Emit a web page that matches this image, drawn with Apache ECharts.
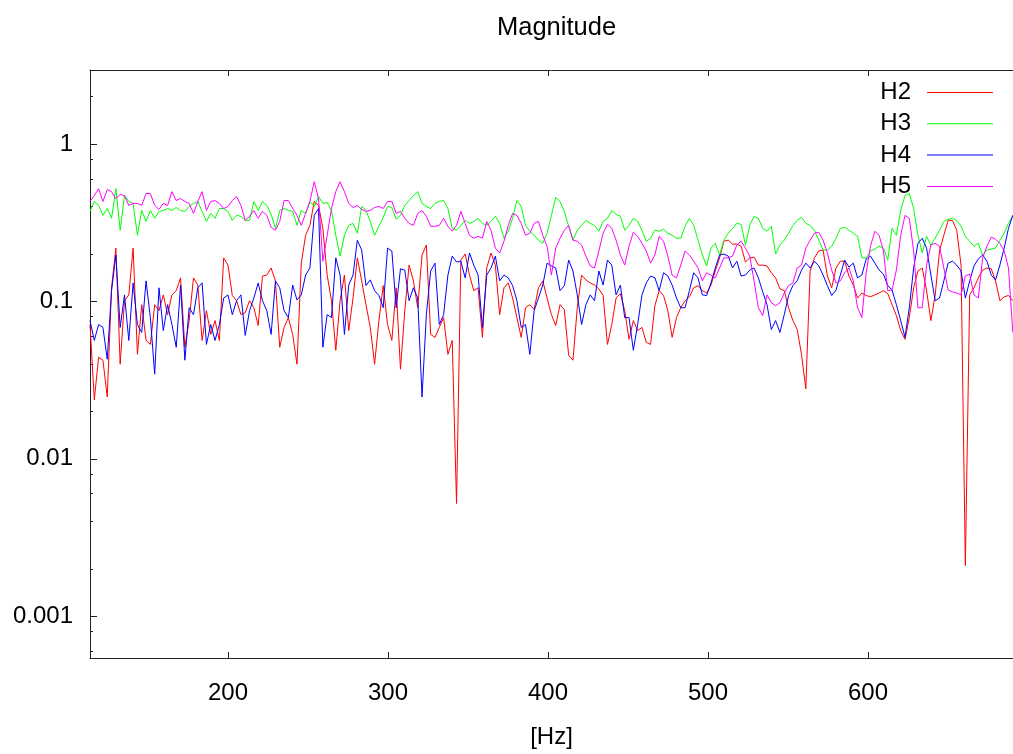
<!DOCTYPE html>
<html><head><meta charset="utf-8">
<script src="https://cdn.jsdelivr.net/npm/echarts@6/dist/echarts.min.js"></script>
<style>html,body{margin:0;padding:0;background:#fff}#c{width:1013px;height:754px}</style>
</head><body><div id="c"></div>
<script>
// Frequency bins (Hz): first bin and bin spacing of the analysed spectrum
const freqStart = 113.75;
const freqStep = 2.695;

const seriesNames = ['H2', 'H3', 'H4', 'H5'];

const H2 = [
.0713,.0237,.0442,.0423,.0247,.122,.218,.0399,.101,.110,
.218,.0461,.0953,.0565,.0533,.0953,.0873,.110,.0824,.110,
.117,.141,.0511,.0755,.141,.127,.0565,.0873,.0617,.0755,
.0565,.189,.170,.109,.101,.0824,.0848,.101,.0912,.0703,
.145,.147,.163,.135,.0511,.0683,.0789,.0617,.0399,.175,
.263,.304,.431,.407,.291,.147,.101,.0489,.101,.147,
.0653,.105,.189,.135,.0953,.0683,.0399,.0755,.126,.0713,
.0565,.122,.0371,.0873,.170,.135,.0912,.197,.228,.0617,
.0591,.0683,.0789,.0461,.0565,.0052,.183,.200,.147,.117,
.122,.0591,.163,.203,.170,.0824,.122,.131,.105,.0789,
.0591,.0912,.0953,.0886,.122,.135,.105,.0824,.0703,.0953,
.0886,.0455,.0423,.0912,.147,.137,.131,.127,.120,.109,
.0533,.0713,.105,.112,.0873,.0574,.0755,.0653,.0683,.0549,
.0533,.0939,.117,.109,.0873,.0591,.0789,.0912,.101,.107,
.122,.126,.117,.113,.127,.156,.189,.241,.245,.231,
.231,.224,.178,.189,.191,.170,.170,.168,.152,.141,
.120,.117,.0912,.0755,.0663,.0461,.0278,.156,.189,.209,
.212,.145,.122,.163,.180,.180,.145,.127,.105,.113,
.109,.107,.110,.113,.117,.112,.0953,.0812,.0653,.0574,
.0789,.122,.156,.163,.117,.0755,.110,.209,.263,.327,
.327,.283,.170,.0021,.110,.122,.141,.158,.163,.161,
.135,.101,.107,.109,.101];

const H3 = [
.373,.431,.407,.352,.389,.337,.520,.283,.470,.431,
.419,.263,.378,.322,.378,.337,.373,.378,.389,.378,
.395,.378,.373,.401,.419,.431,.373,.322,.362,.337,
.389,.389,.373,.327,.352,.347,.327,.327,.431,.378,
.431,.407,.357,.291,.378,.389,.378,.373,.304,.378,
.362,.431,.401,.463,.419,.425,.378,.263,.194,.263,
.304,.313,.271,.401,.378,.322,.263,.300,.342,.401,
.395,.332,.352,.407,.437,.470,.498,.419,.401,.389,
.419,.431,.437,.389,.291,.283,.304,.327,.313,.322,
.337,.313,.304,.322,.347,.313,.252,.279,.337,.437,
.401,.304,.279,.263,.245,.234,.271,.352,.457,.431,
.373,.300,.245,.283,.304,.327,.313,.304,.279,.322,
.337,.378,.357,.347,.283,.304,.337,.322,.283,.241,
.252,.283,.279,.287,.271,.263,.252,.252,.300,.337,
.304,.245,.197,.168,.218,.234,.197,.245,.271,.291,
.313,.309,.228,.304,.347,.337,.291,.279,.300,.200,
.228,.245,.271,.304,.327,.342,.313,.304,.283,.245,
.212,.212,.224,.252,.291,.296,.283,.271,.259,.189,
.189,.209,.215,.224,.218,.183,.291,.263,.378,.470,
.484,.389,.263,.203,.259,.228,.252,.283,.322,.332,
.337,.327,.300,.259,.241,.224,.234,.197,.212,.215,
.218,.245,.271,.313,.352];

const H4 = [
.0755,.0565,.0713,.0683,.0429,.117,.197,.0683,.110,.0565,
.131,.0713,.0635,.135,.0789,.0345,.122,.0653,.0953,.0713,
.0511,.127,.0423,.0912,.0824,.122,.131,.0533,.0713,.0565,
.0713,.105,.110,.0824,.101,.110,.0608,.0873,.105,.131,
.101,.0873,.0617,.135,.122,.0873,.0789,.127,.102,.110,
.147,.163,.352,.389,.0511,.0824,.0789,.189,.147,.0617,
.127,.147,.245,.212,.126,.137,.117,.109,.0912,.218,
.209,.0912,.161,.158,.101,.122,.105,.0247,.0824,.156,
.175,.0713,.0824,.147,.194,.178,.180,.141,.203,.170,
.147,.0683,.147,.163,.194,.135,.147,.141,.126,.101,
.0683,.0713,.0461,.0873,.105,.127,.175,.168,.163,.117,
.126,.183,.156,.110,.0713,.0953,.110,.101,.156,.127,
.183,.170,.110,.127,.0789,.0789,.0489,.0713,.110,.131,
.145,.141,.117,.152,.145,.127,.105,.0912,.0912,.117,
.152,.141,.110,.109,.131,.163,.197,.200,.194,.163,
.180,.145,.147,.158,.163,.141,.115,.0953,.0663,.0755,
.0635,.0824,.109,.126,.135,.158,.175,.163,.180,.168,
.147,.126,.109,.118,.147,.183,.165,.175,.141,.147,
.186,.194,.175,.158,.149,.126,.118,.0953,.0755,.0591,
.0912,.163,.234,.252,.218,.147,.101,.105,.135,.175,
.180,.170,.156,.105,.135,.168,.186,.197,.180,.147,
.137,.170,.218,.291,.352];

const H5 = [
.431,.470,.520,.431,.513,.498,.450,.477,.470,.407,
.419,.419,.407,.484,.484,.407,.384,.419,.407,.498,
.437,.450,.431,.419,.362,.431,.498,.378,.431,.437,
.419,.389,.401,.437,.463,.407,.327,.347,.378,.337,
.373,.352,.296,.283,.322,.437,.437,.389,.352,.304,
.362,.431,.576,.450,.180,.263,.389,.498,.576,.498,
.419,.395,.407,.384,.373,.378,.395,.401,.389,.431,
.431,.362,.373,.337,.313,.304,.362,.378,.347,.300,
.300,.304,.337,.300,.279,.304,.373,.313,.263,.252,
.259,.252,.322,.283,.218,.203,.241,.304,.362,.352,
.313,.263,.271,.313,.322,.263,.224,.147,.218,.252,
.283,.304,.245,.241,.228,.194,.168,.163,.209,.271,
.309,.291,.245,.197,.170,.224,.275,.259,.234,.209,
.175,.197,.259,.241,.194,.147,.141,.170,.209,.197,
.180,.163,.135,.152,.147,.141,.163,.189,.189,.194,
.228,.241,.218,.194,.135,.0912,.0812,.110,.0981,.0939,
.0981,.113,.126,.131,.163,.170,.218,.245,.271,.275,
.245,.203,.158,.131,.135,.152,.163,.135,.0912,.0789,
.152,.224,.279,.263,.209,.117,.118,.158,.263,.352,
.337,.209,.0912,.0912,.170,.228,.234,.224,.163,.118,
.115,.113,.110,.145,.149,.110,.105,.189,.224,.256,
.248,.234,.209,.163,.0635];

const xTickValues = [200, 300, 400, 500, 600];
const yTickValues = [0.001, 0.01, 0.1, 1];
const yTickLabels = ['0.001', '0.01', '0.1', '1'];
const yMinorMultipliers = [2, 4, 6, 8];
const xRange = [113.75, 690.6];
const yRange = [0.000543, 2.95];

const seriesColors = ['#ff0000', '#00ff00', '#0000ff', '#ff00ff'];
const allSeries = [H2, H3, H4, H5];

const lg = v => Math.log10(v);
const yMin = lg(yRange[0]), yMax = lg(yRange[1]);
const majorPos = yTickValues.map(lg);
const minorPos = [];
for (let k = -4; k <= 0; k++) {
  yMinorMultipliers.forEach(m => {
    const p = lg(m * Math.pow(10, k));
    if (p > yMin && p < yMax) minorPos.push(p);
  });
}

const font = 'Liberation Sans, Arial, sans-serif';
const axisColor = '#222';
const lineOpt = { show: true, onZero: false, lineStyle: { color: axisColor, width: 1 } };

const chart = echarts.init(document.getElementById('c'));
chart.setOption({
  backgroundColor: '#fff',
  animation: false,
  title: {
    text: 'Magnitude', left: 492, top: 10,
    textStyle: { fontFamily: font, fontSize: 25.5, fontWeight: 'normal', color: '#000' }
  },
  legend: {
    data: seriesNames.map((n, s) => ({ name: n, icon: 'rect', itemStyle: { color: seriesColors[s] } })),
    orient: 'vertical', right: 20, top: 80.5, padding: 0,
    align: 'right', itemWidth: 66, itemHeight: 1, itemGap: 7.3,
    textStyle: { fontFamily: font, fontSize: 24, lineHeight: 24, color: '#000', padding: [0, 11, 0, 0] }
  },
  grid: { left: 90, right: 0, top: 70, bottom: 92, containLabel: false },
  xAxis: [{
    type: 'value', min: xRange[0], max: xRange[1], position: 'bottom',
    name: '[Hz]', nameLocation: 'middle', nameGap: 67,
    nameTextStyle: { fontFamily: font, fontSize: 24, color: '#000', lineHeight: 24 },
    axisLine: lineOpt,
    axisTick: { show: true, inside: true, length: 6, customValues: xTickValues, lineStyle: { color: axisColor } },
    axisLabel: { show: true, customValues: xTickValues, margin: 23, fontFamily: font, fontSize: 24, lineHeight: 24, color: '#000' },
    splitLine: { show: false }
  }, {
    type: 'value', min: xRange[0], max: xRange[1], position: 'top',
    axisLine: lineOpt,
    axisTick: { show: true, inside: true, length: 6, customValues: xTickValues, lineStyle: { color: axisColor } },
    axisLabel: { show: false },
    splitLine: { show: false }
  }],
  yAxis: [{
    type: 'value', min: yMin, max: yMax, position: 'left',
    axisLine: lineOpt,
    axisTick: { show: true, inside: true, length: 7, customValues: majorPos, lineStyle: { color: axisColor } },
    axisLabel: {
      show: true, customValues: majorPos, margin: 17, fontFamily: font, fontSize: 24, color: '#000',
      formatter: v => { const j = majorPos.findIndex(p => Math.abs(p - v) < 1e-6); return j >= 0 ? yTickLabels[j] : ''; }
    },
    splitLine: { show: false }
  }, {
    type: 'value', min: yMin, max: yMax, position: 'left',
    axisLine: { show: false, onZero: false },
    axisTick: { show: true, inside: true, length: 3, customValues: minorPos, lineStyle: { color: axisColor } },
    axisLabel: { show: false },
    splitLine: { show: false }
  }],
  series: allSeries.map((vals, s) => ({
    name: seriesNames[s], type: 'line', xAxisIndex: 0, yAxisIndex: 0,
    symbol: 'none', showSymbol: false,
    lineStyle: { color: seriesColors[s], width: 1 },
    itemStyle: { color: seriesColors[s] },
    data: vals.map((v, i) => [freqStart + i * freqStep, lg(v)])
  }))
});
</script></body></html>
